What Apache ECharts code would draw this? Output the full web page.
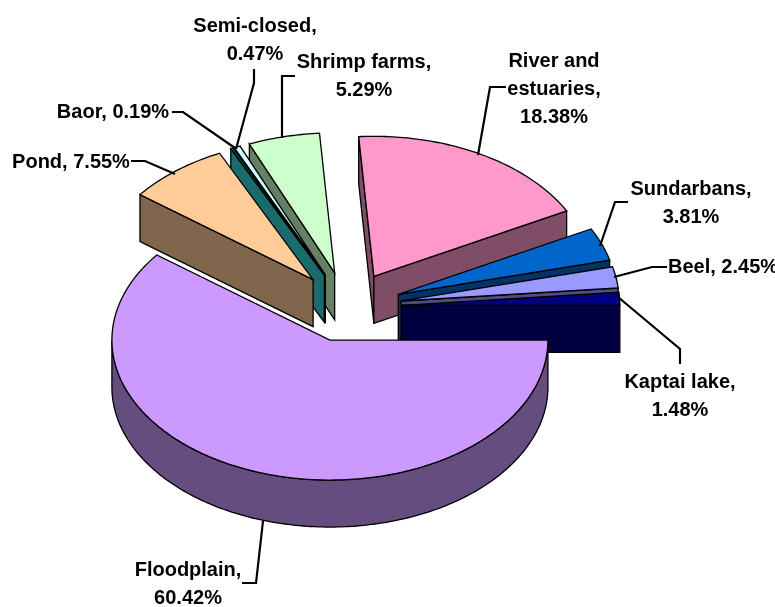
<!DOCTYPE html>
<html>
<head>
<meta charset="utf-8">
<style>
html, body { margin: 0; padding: 0; background: #fff; }
#chart { width: 775px; height: 607px; }
</style>
<script src="https://cdn.jsdelivr.net/npm/echarts@6/dist/echarts.min.js"></script>
</head>
<body>
<div id="chart"></div>
<script>
"use strict"

// clockwise from 3 o'clock, same order as the source workbook
const categories = ["Floodplain", "Pond", "Baor", "Semi-closed", "Shrimp farms", "River and estuaries", "Sundarbans", "Beel", "Kaptai lake"];
const values = [60.42, 7.55, 0.19, 0.47, 5.29, 18.38, 3.81, 2.45, 1.48];

const topColors = ["#CC99FF", "#FFCC99", "#006666", "#CCFFFF", "#CCFFCC", "#FF99CC", "#0066CC", "#9999FF", "#000080"];
const sideColors = ["#664D80", "#80664D", "#1A6B6B", "#1A6B6B", "#668066", "#804D66", "#003366", "#4D4D80", "#000040"];

// the label text wraps differently per slice
const labelLines = [
    ["Floodplain,", "60.42%"],
    ["Pond, 7.55%"],
    ["Baor, 0.19%"],
    ["Semi-closed,", "0.47%"],
    ["Shrimp farms,", "5.29%"],
    ["River and", "estuaries,", "18.38%"],
    ["Sundarbans,", "3.81%"],
    ["Beel, 2.45%"],
    ["Kaptai lake,", "1.48%"]
];
const labelPos = [[188, 584], [71, 162], [113, 112], [255, 40], [364, 76], [554, 89], [691, 203], [723, 267], [680, 396]];
const leaders = [
    [[242, 583], [256, 583], [263, 521]],
    [[131, 161], [145, 161], [175, 174]],
    [[172, 112], [183, 112], [235, 148]],
    [[254, 69], [254, 83], [236, 149]],
    [[295, 76], [282, 76], [282, 138]],
    [[506, 87], [490, 87], [478, 155]],
    [[628, 202], [615, 202], [600, 246]],
    [[667, 267], [652, 267], [614, 277]],
    [[680, 364], [680, 349], [618, 297]]
];

const cx = 347.4, cy = 306.9, rx = 218, ry = 140, depth = 47, explode = 0.25;

const total = values.reduce((a, c) => a + c, 0);
let acc = 0;
const slices = values.map((v, idx) =>
{
    const a0 = acc / total * 2 * Math.PI;
    acc += v;
    const a1 = acc / total * 2 * Math.PI;
    const mid = (a0 + a1) / 2;
    return { idx, a0, a1, ox: cx + explode * rx * Math.cos(mid), oy: cy + explode * ry * Math.sin(mid) };
}).sort((a, b) => a.oy - b.oy);   // back slices first

function rim(s, a)
{
    return [s.ox + rx * Math.cos(a), s.oy + ry * Math.sin(a)];
}
function arcPoints(s, from, to)
{
    const n = Math.max(2, Math.ceil((to - from) / (Math.PI / 180)));
    const pts = [];
    for (let i = 0; i <= n; i++)
        pts.push(rim(s, from + (to - from) * i / n));
    return pts;
}
const down = p => [p[0], p[1] + depth];

function poly(points, fill)
{
    return { type: "polygon", shape: { points }, style: { fill, stroke: "#000", lineWidth: 1.3 } };
}

function renderSlice(params)
{
    const s = slices[params.dataIndex];
    const side = sideColors[s.idx];
    const apex = [s.ox, s.oy];
    const children = [];
    // cut faces, only the ones turned towards the viewer
    if (Math.cos(s.a0) < 0)
    {
        const p = rim(s, s.a0);
        children.push(poly([apex, p, down(p), down(apex)], side));
    }
    if (Math.cos(s.a1) > 0)
    {
        const p = rim(s, s.a1);
        children.push(poly([apex, p, down(p), down(apex)], side));
    }
    // outer wall on the front half of the ellipse
    const from = s.a0, to = Math.min(s.a1, Math.PI);
    if (from < Math.PI)
    {
        const arc = arcPoints(s, from, to);
        children.push(poly(arc.concat(arc.map(down).reverse()), side));
    }
    children.push(poly([apex].concat(arcPoints(s, s.a0, s.a1)), topColors[s.idx]));
    return { type: "group", children };
}

const graphics = [];
categories.forEach((name, i) =>
{
    graphics.push({
        type: "polyline",
        z: 10,
        shape: { points: leaders[i] },
        style: { fill: null, stroke: "#000", lineWidth: 2.2 },
        silent: true
    });
    graphics.push({
        type: "text",
        z: 11,
        x: labelPos[i][0],
        y: labelPos[i][1],
        silent: true,
        style: {
            text: labelLines[i].join("\n"),
            fill: "#000",
            font: "bold 20px 'Liberation Sans', Arial, sans-serif",
            lineHeight: 28,
            align: "center",
            verticalAlign: "middle"
        }
    });
});

const myChart = echarts.init(document.getElementById("chart"), null, { renderer: "canvas" });
myChart.setOption({
    animation: false,
    backgroundColor: "#fff",
    tooltip: { show: false },
    graphic: graphics,
    series: [{
        type: "custom",
        coordinateSystem: "none",
        silent: true,
        renderItem: renderSlice,
        data: slices.map(s => ({ name: categories[s.idx], value: values[s.idx] }))
    }]
});
</script>
</body>
</html>
